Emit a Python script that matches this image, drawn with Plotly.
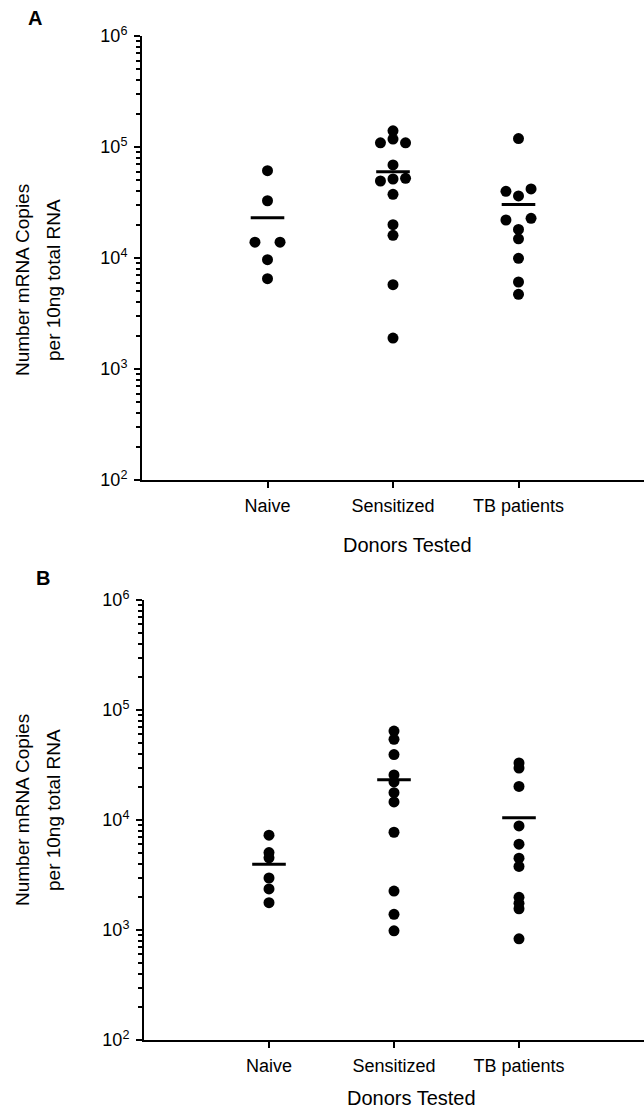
import plotly.graph_objects as go

# ---------------- data ----------------
categories = ["Naive", "Sensitized", "TB patients"]

# Panel A values (copies per 10 ng total RNA)
a_naive = [61200, 32800, 13900, 13900, 9650, 6510]
a_sensitized = [140000, 118000, 109000, 109000, 68900, 49400, 51500, 52200, 37500, 19950, 16000, 5750, 1900]
a_tb = [119000, 41900, 39900, 36200, 22800, 22000, 18100, 14900, 9940, 6080, 4710]
a_means = [23100, 59900, 30400]

# Panel B values
b_naive = [7270, 5060, 4530, 2970, 2360, 1770]
b_sensitized = [64300, 54100, 39300, 25700, 22200, 17700, 14600, 7740, 2260, 1390, 984]
b_tb = [33000, 29700, 20200, 8830, 6030, 4500, 3780, 1980, 1750, 1560, 832]
b_means = [3970, 23200, 10500]

# horizontal spread of overlapping dots (category units)
a_naive_dx = [0, 0, -0.1, 0.1, 0, 0]
a_sens_dx = [0, 0, -0.1, 0.1, 0, -0.1, 0, 0.1, 0, 0, 0, 0, 0]
a_tb_dx = [0, 0.1, -0.1, 0, 0.1, -0.1, 0, 0, 0, 0, 0]

y_tickvals = [100, 1000, 10000, 100000, 1000000]
y_ticktext = ["10<sup>2</sup>", "10<sup>3</sup>", "10<sup>4</sup>", "10<sup>5</sup>", "10<sup>6</sup>"]
minor_vals = [m * 10 ** e for e in range(2, 6) for m in range(2, 10)]

FONT = "Liberation Sans, Arial, Helvetica, sans-serif"
W, H = 644, 1111

fig = go.Figure()


def add_group(vals, dx, pos, xa, ya):
    fig.add_trace(go.Scatter(
        x=[pos + d for d in dx], y=vals, mode="markers",
        marker=dict(color="black", size=11, line=dict(width=0)),
        xaxis=xa, yaxis=ya, showlegend=False, hoverinfo="y"))


add_group(a_naive, a_naive_dx, 1, "x", "y")
add_group(a_sensitized, a_sens_dx, 2, "x", "y")
add_group(a_tb, a_tb_dx, 3, "x", "y")
add_group(b_naive, [0] * len(b_naive), 1, "x2", "y2")
add_group(b_sensitized, [0] * len(b_sensitized), 2, "x2", "y2")
add_group(b_tb, [0] * len(b_tb), 3, "x2", "y2")

for means, xa, ya in [(a_means, "x", "y"), (b_means, "x2", "y2")]:
    fig.add_trace(go.Scatter(
        x=[1, 2, 3], y=means, mode="markers",
        marker=dict(symbol="line-ew", size=24, color="black",
                    line=dict(color="black", width=3)),
        xaxis=xa, yaxis=ya, showlegend=False, hoverinfo="y"))

xcommon = dict(range=[0, 4], showline=True, linewidth=2, linecolor="black",
               ticks="outside", ticklen=6, tickwidth=2, tickcolor="black",
               tickvals=[1, 2, 3], ticktext=categories, showgrid=False,
               zeroline=False, ticklabelstandoff=2, automargin=False,
               tickfont=dict(family=FONT, size=18, color="black"))
ycommon = dict(type="log", range=[2, 6], showline=True, linewidth=2,
               linecolor="black", ticks="outside", ticklen=6, tickwidth=2,
               tickcolor="black", tickvals=y_tickvals, ticktext=y_ticktext,
               showgrid=False, zeroline=False, ticklabelstandoff=3,
               automargin=False,
               tickfont=dict(family=FONT, size=18, color="black"),
               minor=dict(tickvals=minor_vals, ticks="outside", ticklen=4,
                          tickwidth=1.5, tickcolor="black", showgrid=False))

fig.update_layout(
    width=W, height=H,
    margin=dict(l=0, r=0, t=0, b=0, pad=0, autoexpand=False),
    paper_bgcolor="white", plot_bgcolor="white",
    font=dict(family=FONT, color="black"),
    xaxis=dict(domain=[142 / W, 1], anchor="y", **xcommon),
    yaxis=dict(domain=[1 - 480 / H, 1 - 36 / H], anchor="x", **ycommon),
    xaxis2=dict(domain=[144 / W, 1], anchor="y2", **xcommon),
    yaxis2=dict(domain=[1 - 1040 / H, 1 - 600 / H], anchor="x2", **ycommon),
)

ann = [
    dict(text="<b>A</b>", x=35 / W, y=1 - 18 / H, size=20),
    dict(text="<b>B</b>", x=43 / W, y=1 - 578 / H, size=20),
    dict(text="Donors Tested", x=407 / W, y=1 - 545 / H, size=20),
    dict(text="Donors Tested", x=411 / W, y=1 - 1098 / H, size=20),
]
for a in ann:
    fig.add_annotation(xref="paper", yref="paper", x=a["x"], y=a["y"],
                       text=a["text"], showarrow=False, xanchor="center",
                       yanchor="middle",
                       font=dict(family=FONT, size=a["size"], color="black"))

title_lines = ["Number mRNA Copies", "per 10ng total RNA"]
for yc in [280, 810]:
    for line, xc in zip(title_lines, [22, 53]):
        fig.add_annotation(xref="paper", yref="paper", x=xc / W, y=1 - yc / H,
                           text=line, textangle=-90, showarrow=False,
                           xanchor="center", yanchor="middle",
                           font=dict(family=FONT, size=19, color="black"))

fig.write_html(
    "out.html",
    config={"displayModeBar": False},
    post_script="document.body.style.margin='0';document.body.style.overflow='hidden';",
)
